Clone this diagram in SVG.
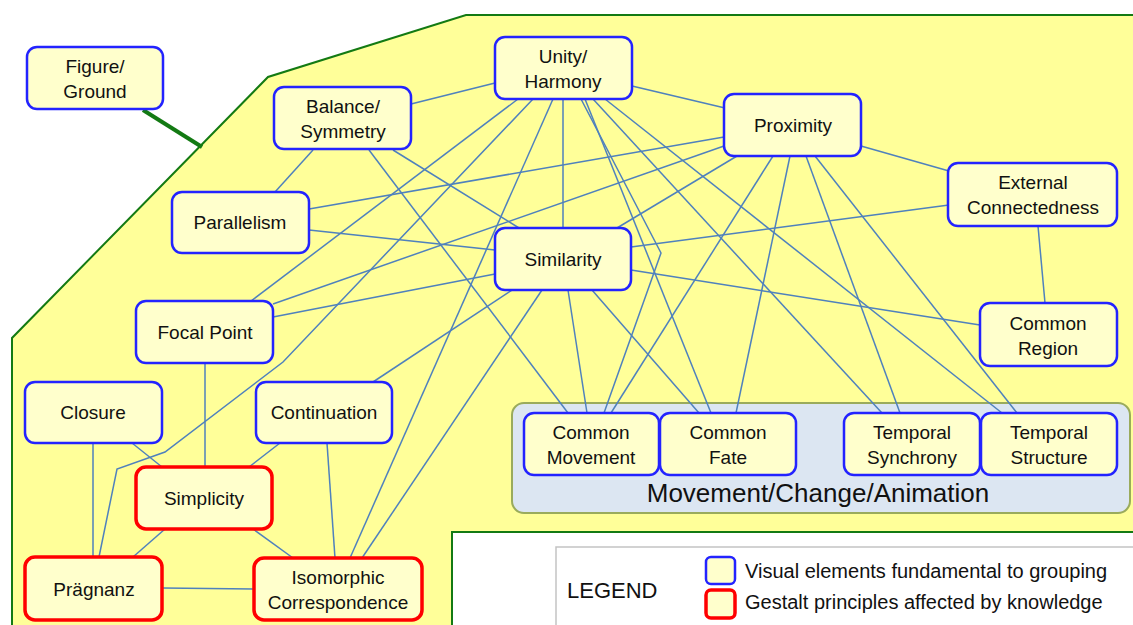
<svg xmlns="http://www.w3.org/2000/svg" width="1133" height="625" viewBox="0 0 1133 625">
<style>
.bg{fill:#ffff99;stroke:#137a13;stroke-width:2}
.n rect{fill:#ffffcc;stroke:#2323ff;stroke-width:2.5}
.r rect{fill:#ffffcc;stroke:#ff0000;stroke-width:3.5}
text{font-family:"Liberation Sans",Arial,sans-serif;font-size:19px;fill:#111;text-anchor:middle}
.c line,.c polyline{stroke:#4f81bd;stroke-width:1.5;fill:none}
.lg{text-anchor:start;font-size:20px}
</style>
<rect width="1133" height="625" fill="#ffffff"/>
<polygon class="bg" points="12,640 12,338 268,77 466,15 1145,15 1145,640"/>
<rect x="452" y="532" width="700" height="110" fill="#ffffff" stroke="#137a13" stroke-width="2"/>
<rect x="512" y="403" width="618" height="110" rx="12" fill="#dce6f2" stroke="#9aab5c" stroke-width="2"/>
<text x="818" y="502" style="font-size:26px">Movement/Change/Animation</text>
<g id="legend">
<rect x="556" y="547" width="600" height="100" fill="#ffffff" stroke="#c3c3c3" stroke-width="1.5"/>
<text x="567" y="598" style="text-anchor:start;font-size:22px">LEGEND</text>
<rect x="706" y="557" width="29" height="27" rx="5" fill="#ffffcc" stroke="#2323ff" stroke-width="2.5"/>
<rect x="706" y="590" width="29" height="28" rx="5" fill="#ffffcc" stroke="#ff0000" stroke-width="3.5"/>
<text class="lg" x="745" y="578">Visual elements fundamental to grouping</text>
<text class="lg" x="745" y="609">Gestalt principles affected by knowledge</text>
</g>
<line x1="143" y1="110" x2="202" y2="147" stroke="#137a13" stroke-width="4"/>
<g class="c" id="connectors">
<line x1="411" y1="104" x2="495" y2="83"/>
<line x1="632" y1="86" x2="725" y2="108"/>
<line x1="563" y1="99" x2="563" y2="228"/>
<line x1="518" y1="99" x2="251" y2="301"/>
<polyline points="533,99 283,362 165,452 117,469 99,557"/>
<line x1="553" y1="99" x2="350" y2="558"/>
<polyline points="581,99 661,253 604,413"/>
<line x1="585" y1="99" x2="711" y2="413"/>
<line x1="593" y1="99" x2="882" y2="413"/>
<line x1="605" y1="99" x2="1002" y2="413"/>
<line x1="313" y1="150" x2="275" y2="192"/>
<line x1="393" y1="150" x2="519" y2="228"/>
<line x1="369" y1="150" x2="568" y2="413"/>
<line x1="309" y1="209" x2="724" y2="137"/>
<line x1="309" y1="230" x2="495" y2="250"/>
<line x1="273" y1="304" x2="724" y2="146"/>
<line x1="273" y1="317" x2="495" y2="274"/>
<line x1="737" y1="156" x2="617" y2="228"/>
<line x1="773" y1="156" x2="611" y2="413"/>
<line x1="790" y1="156" x2="736" y2="413"/>
<line x1="806" y1="156" x2="900" y2="413"/>
<line x1="815" y1="156" x2="1017" y2="413"/>
<line x1="861" y1="146" x2="949" y2="171"/>
<line x1="631" y1="247" x2="949" y2="205"/>
<line x1="631" y1="270" x2="980" y2="325"/>
<line x1="568" y1="290" x2="587" y2="413"/>
<line x1="592" y1="290" x2="699" y2="413"/>
<line x1="542" y1="290" x2="362" y2="558"/>
<line x1="512" y1="290" x2="373" y2="382"/>
<line x1="1038" y1="226" x2="1045" y2="303"/>
<line x1="205" y1="363" x2="205" y2="467"/>
<line x1="93" y1="443" x2="93" y2="557"/>
<line x1="132" y1="443" x2="162" y2="467"/>
<line x1="280" y1="443" x2="249" y2="467"/>
<line x1="327" y1="443" x2="335" y2="558"/>
<line x1="165" y1="529" x2="133" y2="557"/>
<line x1="253" y1="529" x2="293" y2="558"/>
<line x1="163" y1="588" x2="253" y2="589"/>
</g>
<g id="figure-ground" class="n"><rect x="27" y="47" width="136" height="62" rx="10"/><text x="95" y="73">Figure/</text><text x="95" y="98">Ground</text></g>
<g id="balance" class="n"><rect x="274" y="87" width="137" height="62" rx="10"/><text x="343" y="113">Balance/</text><text x="343" y="138">Symmetry</text></g>
<g id="unity" class="n"><rect x="495" y="37" width="137" height="62" rx="10"/><text x="563" y="63">Unity/</text><text x="563" y="88">Harmony</text></g>
<g id="proximity" class="n"><rect x="724" y="94" width="137" height="62" rx="10"/><text x="793" y="132">Proximity</text></g>
<g id="external" class="n"><rect x="948" y="163" width="169" height="63" rx="10"/><text x="1033" y="189">External</text><text x="1033" y="214">Connectedness</text></g>
<g id="parallelism" class="n"><rect x="172" y="192" width="137" height="61" rx="10"/><text x="240" y="229">Parallelism</text></g>
<g id="similarity" class="n"><rect x="495" y="228" width="136" height="62" rx="10"/><text x="563" y="266">Similarity</text></g>
<g id="focal" class="n"><rect x="136" y="301" width="137" height="62" rx="10"/><text x="205" y="339">Focal Point</text></g>
<g id="common-region" class="n"><rect x="980" y="303" width="137" height="63" rx="10"/><text x="1048" y="330">Common</text><text x="1048" y="355">Region</text></g>
<g id="closure" class="n"><rect x="25" y="382" width="137" height="61" rx="10"/><text x="93" y="419">Closure</text></g>
<g id="continuation" class="n"><rect x="256" y="382" width="136" height="61" rx="10"/><text x="324" y="419">Continuation</text></g>
<g id="simplicity" class="r"><rect x="136" y="467" width="136" height="62" rx="10"/><text x="204" y="505">Simplicity</text></g>
<g id="pragnanz" class="r"><rect x="25" y="557" width="137" height="63" rx="10"/><text x="94" y="596">Prägnanz</text></g>
<g id="isomorphic" class="r"><rect x="254" y="558" width="168" height="62" rx="10"/><text x="338" y="584">Isomorphic</text><text x="338" y="609">Correspondence</text></g>
<g id="common-movement" class="n"><rect x="524" y="413" width="135" height="62" rx="10"/><text x="591" y="439">Common</text><text x="591" y="464">Movement</text></g>
<g id="common-fate" class="n"><rect x="660" y="413" width="136" height="62" rx="10"/><text x="728" y="439">Common</text><text x="728" y="464">Fate</text></g>
<g id="temporal-synchrony" class="n"><rect x="844" y="413" width="136" height="62" rx="10"/><text x="912" y="439">Temporal</text><text x="912" y="464">Synchrony</text></g>
<g id="temporal-structure" class="n"><rect x="981" y="413" width="136" height="62" rx="10"/><text x="1049" y="439">Temporal</text><text x="1049" y="464">Structure</text></g>
</svg>
